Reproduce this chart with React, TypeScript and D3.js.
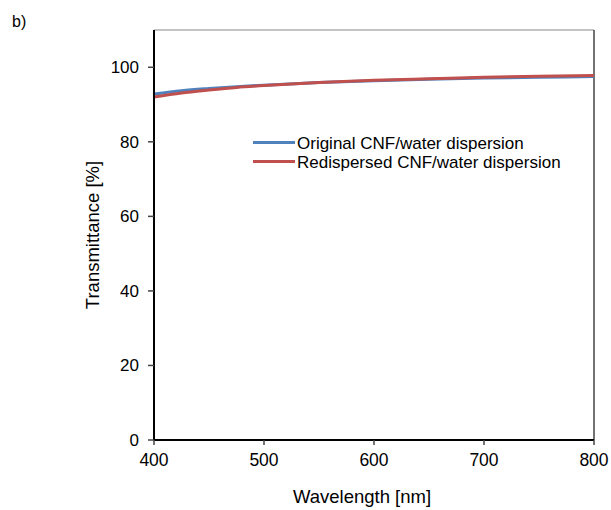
import React from "react";
import * as d3 from "d3";

const wavelengths = [400, 425, 450, 475, 500, 550, 600, 650, 700, 750, 800];
const originalT = [92.8, 93.7, 94.3, 94.8, 95.2, 95.9, 96.4, 96.8, 97.1, 97.3, 97.5];
const redispersedT = [92.0, 93.1, 93.9, 94.6, 95.1, 95.9, 96.5, 96.9, 97.3, 97.6, 97.8];
const xTicks = [400, 500, 600, 700, 800];
const yTicks = [0, 20, 40, 60, 80, 100];
const seriesNames = ["Original CNF/water dispersion", "Redispersed CNF/water dispersion"];
const seriesColors = ["#4F81BD", "#C0504D"];

export default function App() {
  const W = 611, H = 510;
  const left = 154, right = 594, top = 30, bottom = 440;
  const x = d3.scaleLinear().domain([400, 800]).range([left, right]);
  const y = d3.scaleLinear().domain([0, 110]).range([bottom, top]);
  const line = d3
    .line<[number, number]>()
    .x((d) => x(d[0]))
    .y((d) => y(d[1]))
    .curve(d3.curveMonotoneX);
  const series = [originalT, redispersedT].map((vals) =>
    wavelengths.map((w, i) => [w, vals[i]] as [number, number])
  );
  const font = "Liberation Sans, Arial, sans-serif";
  return (
    <svg
      width={W}
      height={H}
      style={{ position: "absolute", left: 0, top: 0, background: "#fff" }}
      fontFamily={font}
    >
      <rect x={0} y={0} width={W} height={H} fill="#fff" />
      <text x={12} y={27} fontSize={16} fill="#000">b)</text>
      {/* box */}
      <line x1={left} x2={right} y1={top} y2={top} stroke="#888" strokeWidth={1.2} />
      <line x1={right} x2={right} y1={top} y2={bottom} stroke="#444" strokeWidth={1.5} />
      {/* series */}
      {series.map((s, i) => (
        <path key={i} d={line(s) || ""} fill="none" stroke={seriesColors[i]} strokeWidth={3} />
      ))}
      {/* y axis */}
      <line x1={left} x2={left} y1={top} y2={bottom} stroke="#000" strokeWidth={2} />
      {yTicks.map((t) => (
        <g key={t}>
          <line x1={left - 6} x2={left} y1={y(t)} y2={y(t)} stroke="#444" strokeWidth={1.5} />
          <text x={left - 15} y={y(t)} dy="0.35em" textAnchor="end" fontSize={17} fill="#000">
            {t}
          </text>
        </g>
      ))}
      {/* x axis */}
      <line x1={left} x2={right} y1={bottom} y2={bottom} stroke="#000" strokeWidth={2} />
      {xTicks.map((t) => (
        <g key={t}>
          <line x1={x(t)} x2={x(t)} y1={bottom} y2={bottom + 5} stroke="#444" strokeWidth={1.5} />
          <text x={x(t)} y={bottom + 26} textAnchor="middle" fontSize={17.5} fill="#000">
            {t}
          </text>
        </g>
      ))}
      <text x={(left + right) / 2 - 12} y={503} textAnchor="middle" fontSize={18.5} fill="#000">
        Wavelength [nm]
      </text>
      <text
        transform={`translate(99,235) rotate(-90)`}
        textAnchor="middle"
        fontSize={18.5}
        fill="#000"
      >
        Transmittance [%]
      </text>
      {/* legend */}
      {seriesNames.map((n, i) => {
        const by = 149 + i * 19;
        return (
          <g key={n}>
            <line x1={253} x2={295} y1={by - 6.5} y2={by - 6.5} stroke={seriesColors[i]} strokeWidth={3} />
            <text x={297} y={by} fontSize={17} fill="#000">{n}</text>
          </g>
        );
      })}
    </svg>
  );
}
